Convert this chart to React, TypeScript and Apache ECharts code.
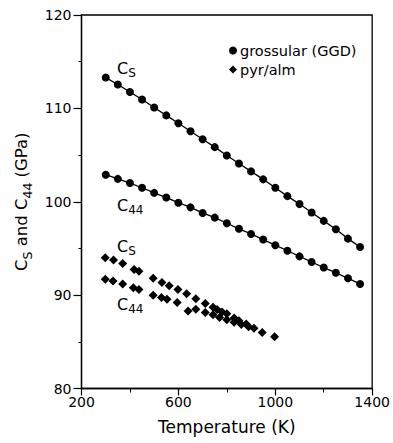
import React, { useEffect, useRef } from "react";
import * as echarts from "echarts";

// Temperatures (K) for the grossular (GGD) measurements
const grossularT = [300, 350, 400, 450, 500, 550, 600, 650, 700, 750, 800, 850, 900, 950, 1000, 1050, 1100, 1150, 1200, 1250, 1300, 1350];
const grossularCs = [113.3, 112.55, 111.75, 110.95, 110.1, 109.25, 108.4, 107.55, 106.7, 105.85, 104.95, 104.1, 103.25, 102.4, 101.5, 100.6, 99.75, 98.85, 97.95, 97.05, 96.05, 95.15];
const grossularC44 = [102.9, 102.45, 102.0, 101.5, 100.95, 100.45, 99.9, 99.4, 98.8, 98.3, 97.7, 97.1, 96.55, 95.95, 95.35, 94.75, 94.15, 93.55, 92.95, 92.4, 91.8, 91.2];

// pyr/alm measurements
const pyrCsT = [298, 332, 370, 417, 437, 496, 532, 562, 598, 634, 672, 711, 743, 760, 780, 800, 830, 850, 880, 912, 946, 997];
const pyrCs = [94.0, 93.75, 93.4, 92.75, 92.55, 91.8, 91.35, 91.0, 90.6, 90.15, 89.6, 89.1, 88.7, 88.45, 88.2, 88.0, 87.55, 87.25, 86.9, 86.45, 86.0, 85.55];
const pyrC44T = [298, 330, 370, 414, 437, 496, 530, 553, 595, 640, 672, 711, 743, 770, 800, 830, 860, 890];
const pyrC44 = [91.7, 91.5, 91.2, 90.8, 90.6, 90.0, 89.75, 89.55, 89.2, 88.3, 88.5, 88.15, 87.9, 87.6, 87.35, 87.1, 86.85, 86.6];

const xMin = 200;
const xMax = 1400;
const xStep = 400;
const yMin = 80;
const yMax = 120;
const yStep = 10;

const FONT = "'DejaVu Sans', sans-serif";

const zip = (a: number[], b: number[]) => a.map((v, i) => [v, b[i]]);

const sub = (main: string, s: string) => `{c|${main}}{s|${s}}`;

export default function App() {
  const ref = useRef<HTMLDivElement>(null);
  useEffect(() => {
    if (!ref.current) return;
    const chart = echarts.init(ref.current, undefined, { renderer: "svg" });
    const annoRich = {
      c: { fontSize: 16, fontFamily: FONT, color: "#000", lineHeight: 18, verticalAlign: "bottom" },
      s: { fontSize: 12, fontFamily: FONT, color: "#000", lineHeight: 12, verticalAlign: "bottom", padding: [0, 0, -3, 0] },
    };
    chart.setOption({
      animation: false,
      backgroundColor: "#fff",
      grid: { left: 81.5, right: 15.5, top: 15, bottom: 54.5, show: true, borderColor: "#000", borderWidth: 1.3 },
      legend: {
        orient: "vertical",
        left: 224,
        top: 38,
        itemWidth: 8,
        itemHeight: 8,
        itemGap: 4,
        textStyle: { fontSize: 14.5, fontFamily: FONT, color: "#000", padding: [0, 0, 0, -2] },
        data: [
          { name: "grossular (GGD)", icon: "circle" },
          { name: "pyr/alm", icon: "diamond" },
        ],
      },
      xAxis: {
        type: "value",
        min: xMin,
        max: xMax,
        interval: xStep,
        name: "Temperature (K)",
        nameLocation: "middle",
        nameGap: 30,
        nameTextStyle: { fontSize: 17, fontFamily: FONT, color: "#000" },
        axisLine: { onZero: false, lineStyle: { color: "#000", width: 1.3 } },
        axisTick: { show: true, length: 7, inside: false, lineStyle: { color: "#000", width: 1.2 } },
        minorTick: { show: true, splitNumber: 2, length: 4, lineStyle: { color: "#000", width: 1 } },
        axisLabel: { fontSize: 14, fontFamily: FONT, color: "#000", margin: 6, formatter: (v: number) => String(v) },
        splitLine: { show: false },
      },
      yAxis: {
        type: "value",
        min: yMin,
        max: yMax,
        interval: yStep,
        name: `{n|C}{s|S}{n| and C}{s|44}{n| (GPa)}`,
        nameLocation: "middle",
        nameGap: 50,
        nameRotate: 90,
        nameTextStyle: {
          rich: {
            n: { fontSize: 16.5, fontFamily: FONT, color: "#000", lineHeight: 20, verticalAlign: "bottom" },
            s: { fontSize: 12.5, fontFamily: FONT, color: "#000", lineHeight: 13, verticalAlign: "bottom", padding: [0, 0, -4, 0] },
          },
        },
        axisLine: { onZero: false, lineStyle: { color: "#000", width: 1.3 } },
        axisTick: { show: true, length: 8, inside: false, lineStyle: { color: "#000", width: 1.2 } },
        minorTick: { show: true, splitNumber: 2, length: 3, lineStyle: { color: "#000", width: 1 } },
        axisLabel: { fontSize: 14, fontFamily: FONT, color: "#000", margin: 10, formatter: (v: number) => String(v) },
        splitLine: { show: false },
      },
      graphic: [
        { type: "text", left: 117, top: 60, style: { text: sub("C", "S"), rich: annoRich } },
        { type: "text", left: 117, top: 197, style: { text: sub("C", "44"), rich: annoRich } },
        { type: "text", left: 117, top: 238, style: { text: sub("C", "S"), rich: annoRich } },
        { type: "text", left: 117, top: 296, style: { text: sub("C", "44"), rich: annoRich } },
      ],
      series: [
        {
          name: "grossular (GGD)",
          type: "line",
          data: zip(grossularT, grossularCs),
          symbol: "circle",
          symbolSize: 8,
          itemStyle: { color: "#000", opacity: 1 },
          lineStyle: { color: "#000", width: 1.3 },
        },
        {
          name: "grossular (GGD)",
          type: "line",
          data: zip(grossularT, grossularC44),
          symbol: "circle",
          symbolSize: 8,
          itemStyle: { color: "#000", opacity: 1 },
          lineStyle: { color: "#000", width: 1.3 },
        },
        {
          name: "pyr/alm",
          type: "scatter",
          data: zip(pyrCsT, pyrCs),
          symbol: "diamond",
          symbolSize: 9,
          itemStyle: { color: "#000", opacity: 1 },
        },
        {
          name: "pyr/alm",
          type: "scatter",
          data: zip(pyrC44T, pyrC44),
          symbol: "diamond",
          symbolSize: 9,
          itemStyle: { color: "#000", opacity: 1 },
        },
      ],
    });
    return () => chart.dispose();
  }, []);
  return <div ref={ref} style={{ width: 393, height: 443, position: "absolute", left: 0, top: 0 }} />;
}
